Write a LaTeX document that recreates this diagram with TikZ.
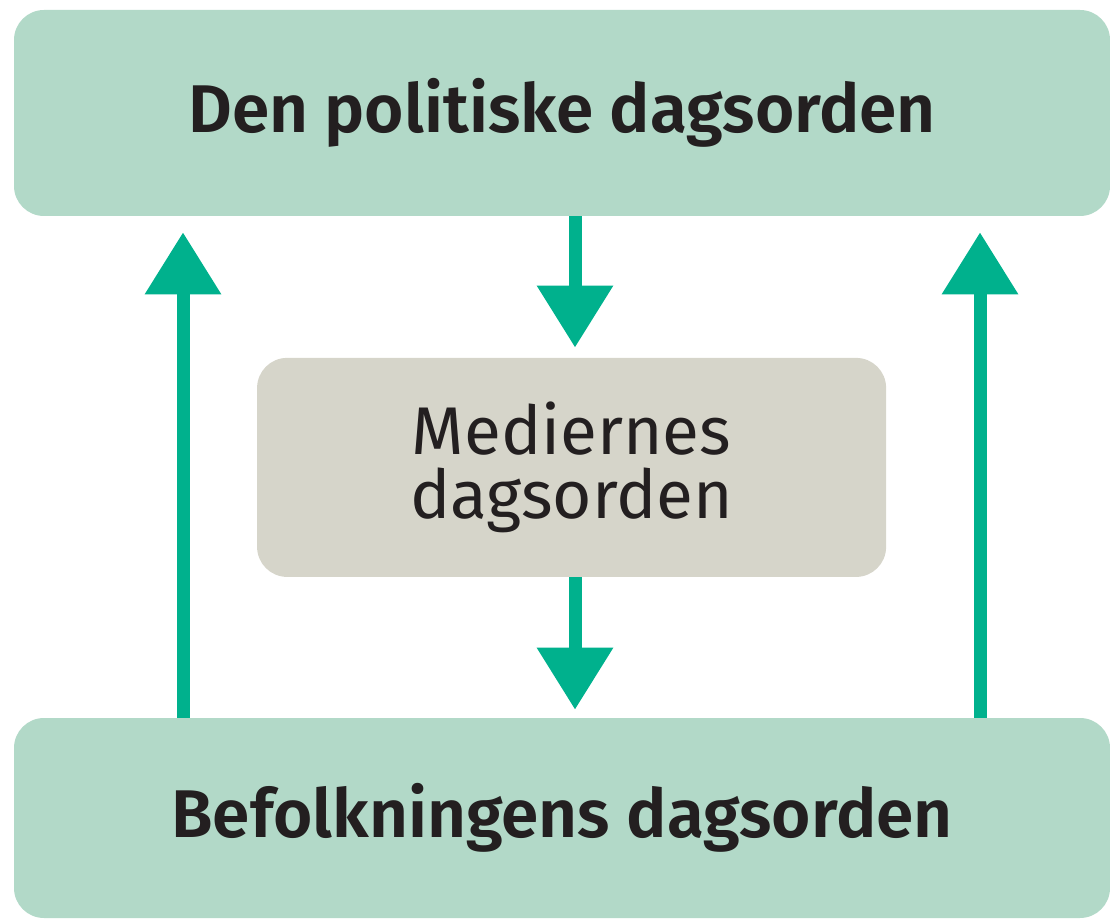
\documentclass[tikz,border=0pt]{standalone}
\usepackage{fontspec}
\setmainfont{Fira Sans}[BoldFont={Fira Sans SemiBold}]
\usetikzlibrary{arrows.meta}
\definecolor{groen}{HTML}{B2D9C8}
\definecolor{graa}{HTML}{D6D5CA}
\definecolor{pilfarve}{HTML}{00B18D}
\definecolor{tekst}{HTML}{231F20}
\begin{document}
\begin{tikzpicture}[
    boks/.style={rounded corners=0.75cm, inner sep=0pt, align=center, text=tekst},
    pil/.style={draw=pilfarve, line width=0.325cm, -{Triangle[width=1.825cm, length=1.55cm]}}
  ]
  \useasboundingbox (0,0) rectangle (27.75,22.975);
  {\fontsize{48}{46}\selectfont

  % Drawing box den politiske dagsorden
  \node [boks, fill=groen, minimum width=27.4cm, minimum height=5.15cm] (politisk) at (14.05,20.15) {\bfseries Den politiske dagsorden};%

  % Drawing box mediernes dagsorden
  \node [boks, fill=graa, minimum width=15.725cm, minimum height=5.475cm] (medier) at (14.29,11.29) {Mediernes\\dagsorden};%

  % Drawing box befolkningens dagsorden
  \node [boks, fill=groen, minimum width=27.4cm, minimum height=5.0cm] (befolkning) at (14.05,2.525) {\bfseries Befolkningens dagsorden};%

  % Marking arrow columns
  \coordinate (vx) at (4.575,0);%
  \coordinate (mx) at (14.375,0);%
  \coordinate (hx) at (24.5,0);%

  % Drawing arrow politisk -> medier
  \draw [pil, shorten >=0.25cm] (politisk.south -| mx) -- (medier.north -| mx);%

  % Drawing arrow medier -> befolkning
  \draw [pil, shorten >=0.2cm] (medier.south -| mx) -- (befolkning.north -| mx);%

  % Drawing arrow befolkning -> politisk (left)
  \draw [pil, shorten >=0.4cm] (befolkning.north -| vx) -- (politisk.south -| vx);%

  % Drawing arrow befolkning -> politisk (right)
  \draw [pil, shorten >=0.4cm] (befolkning.north -| hx) -- (politisk.south -| hx);%
  }
\end{tikzpicture}
\end{document}
